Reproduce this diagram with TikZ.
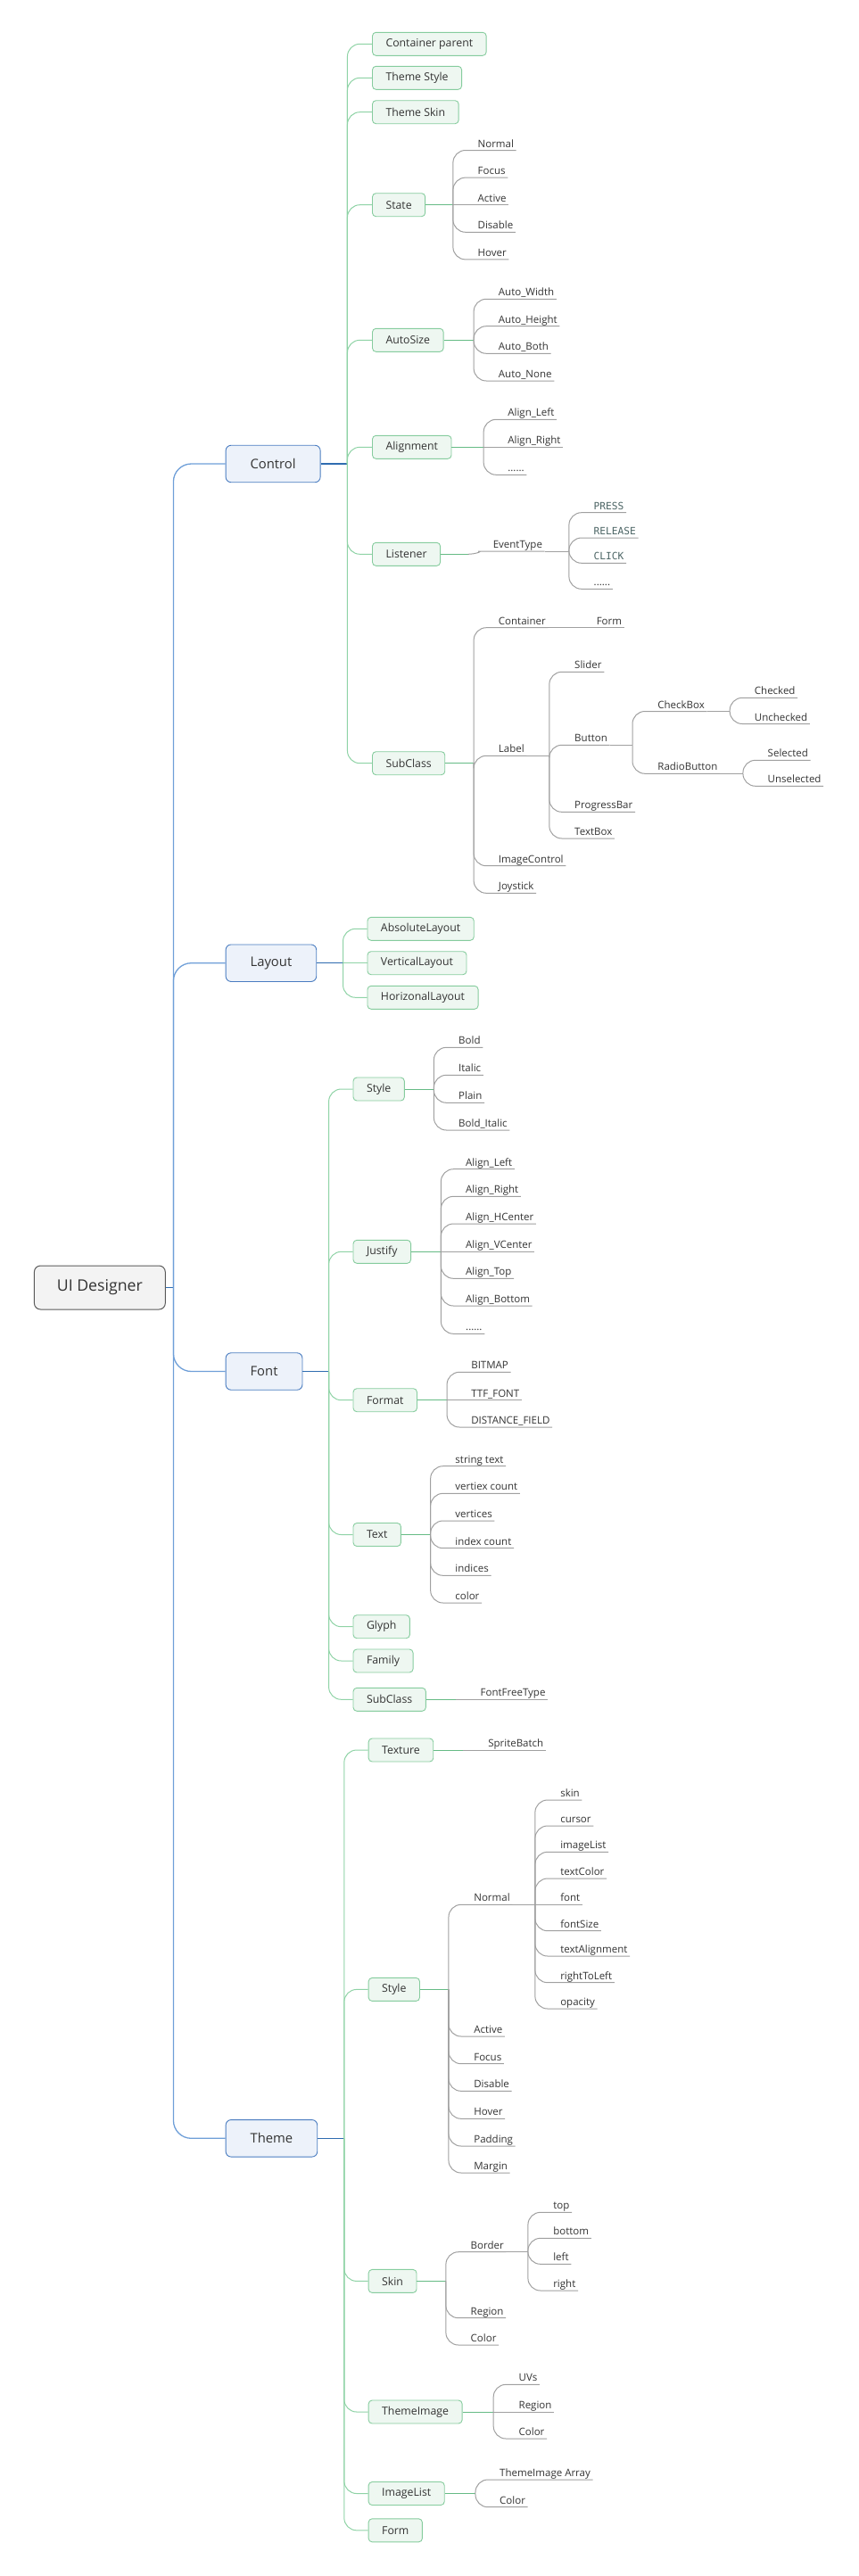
\documentclass[tikz,border=0pt]{standalone}
\usepackage{fontspec}
\setmainfont{Open Sans}
\newfontfamily\mymono{DejaVu Sans Mono}
\definecolor{txt}{HTML}{333333}
\definecolor{monoC}{HTML}{4B6464}
\definecolor{rootD}{HTML}{5A5A5A}
\definecolor{rootF}{HTML}{F3F3F3}
\definecolor{blueB}{HTML}{4A7CC0}
\definecolor{blueF}{HTML}{EDF2FA}
\definecolor{blueL}{HTML}{6F9FD8}
\definecolor{blueD}{HTML}{2F6CB0}
\definecolor{greenB}{HTML}{86CC9E}
\definecolor{greenF}{HTML}{EEF7F1}
\definecolor{greenL}{HTML}{8FD3A6}
\definecolor{greenD}{HTML}{66BB85}
\definecolor{grayL}{HTML}{A0A0A0}
\newcommand\lf[5][leaf]{\node[#1] (#2) at (#3,#4) {#5};}
\newcommand\cn[2]{\draw[yl] (#1) |- (#2.south east);}
\begin{document}
\begin{tikzpicture}[x=0.985pt,y=-1pt,
 rootbox/.style={draw=rootD, fill=rootF, line width=1pt, rounded corners=7pt, minimum height=49pt, inner xsep=25.5pt, font=\fontsize{17.7}{21}\selectfont, text=txt, anchor=west},
 bluebox/.style={draw=blueB, fill=blueF, line width=0.9pt, rounded corners=6pt, minimum height=41.5pt, inner xsep=27.5pt, font=\fontsize{14.8}{18}\selectfont, text=txt, anchor=west},
 greenbox/.style={draw=greenB, fill=greenF, line width=0.9pt, rounded corners=4pt, minimum height=26pt, inner xsep=15pt, font=\fontsize{12.3}{15}\selectfont, text=txt, anchor=west},
 leaf/.style={inner xsep=2.5pt, inner ysep=0pt, text depth=3.3pt, font=\fontsize{11.5}{14}\selectfont, text=txt, anchor=south west},
 monoleaf/.style={leaf, font=\mymono\fontsize{11.2}{14}\selectfont, text=monoC},
 tl/.style={draw=blueL, line width=1.3pt, rounded corners=20pt},
 bseg/.style={draw=blueD, line width=1.3pt},
 gl/.style={draw=greenL, line width=1pt, rounded corners=14pt},
 gseg/.style={draw=greenD, line width=1pt},
 yl/.style={draw=grayL, line width=1pt, rounded corners=14pt},
]
\useasboundingbox (0,0) rectangle (976.65,2888);

% ---------- root and first level
\node[rootbox] (root) at (38.5,1443.5) {UI Designer};
\coordinate (vR) at (197.4,1443.5);
\draw[bseg] (root.east) -- (vR);
\node[bluebox] (control) at (256.5,520) {Control};
\node[bluebox] (layout) at (256.5,1079.7) {Layout};
\node[bluebox] (font) at (256.5,1537.5) {Font};
\node[bluebox] (theme) at (256.5,2397.3) {Theme};
\foreach \n in {control,layout,font,theme} {\draw[tl] (vR) |- (\n.west);}

% ---------- Control
\coordinate (vC) at (395.4,520);
\draw[bseg] (control.east) -- (vC);
\node[greenbox] (cparent) at (423.4,49.3) {Container parent};
\node[greenbox] (tstyle) at (423.4,87.3) {Theme Style};
\node[greenbox] (tskin) at (423.4,125.7) {Theme Skin};
\node[greenbox] (state) at (423.4,229.7) {State};
\node[greenbox] (autosize) at (423.4,381.3) {AutoSize};
\node[greenbox] (alignment) at (423.4,501.3) {Alignment};
\node[greenbox] (listener) at (423.4,621.3) {Listener};
\node[greenbox] (csub) at (423.4,855.7) {SubClass};
\foreach \n in {cparent,tstyle,tskin,state,autosize,alignment,listener,csub} {\draw[gl] (vC) |- (\n.west);}

% State
\coordinate (vSt) at (515.6,229.7);
\draw[gseg] (state.east) -- (vSt);
\lf{stN}{541.1}{168.5}{Normal}
\lf{stF}{541.1}{199.1}{Focus}
\lf{stA}{541.1}{229.7}{Active}
\lf{stD}{541.1}{260.3}{Disable}
\lf{stH}{541.1}{290.9}{Hover}
\foreach \n in {stN,stF,stD,stH} {\cn{vSt}{\n}}
\draw[yl] (vSt) -- (stA.south east);

% AutoSize
\coordinate (vAs) at (539.2,381.3);
\draw[gseg] (autosize.east) -- (vAs);
\lf{asW}{564.7}{335.3}{Auto\_Width}
\lf{asH}{564.7}{365.7}{Auto\_Height}
\lf{asB}{564.7}{396.3}{Auto\_Both}
\lf{asN}{564.7}{427}{Auto\_None}
\foreach \n in {asW,asH,asB,asN} {\cn{vAs}{\n}}

% Alignment
\coordinate (vAl) at (550.4,501.3);
\draw[gseg] (alignment.east) -- (vAl);
\lf{alL}{575.3}{470.3}{Align\_Left}
\lf{alR}{575.3}{501.3}{Align\_Right}
\lf{alD}{575.3}{532.3}{......}
\cn{vAl}{alL}
\cn{vAl}{alD}
\draw[yl] (vAl) -- (alR.south east);

% Listener
\coordinate (vLi) at (532.6,621.3);
\draw[gseg] (listener.east) -- (vLi);
\lf{evt}{558.5}{618}{EventType}
\draw[yl] (vLi) .. controls +(8,0) and +(-8,0) .. (evt.south west) -- (evt.south east);
\coordinate (vEv) at (647.6,618);
\draw[yl] (evt.south east) -- (vEv);
\lf[monoleaf]{evP}{673.1}{574.7}{PRESS}
\lf[monoleaf]{evR}{673.1}{603}{RELEASE}
\lf[monoleaf]{evC}{673.1}{631.3}{CLICK}
\lf{evD}{673.1}{660.3}{......}
\foreach \n in {evP,evR,evC,evD} {\cn{vEv}{\n}}

% Control SubClass
\coordinate (vSc) at (539.2,855.7);
\draw[gseg] (csub.east) -- (vSc);
\lf{cont}{564.7}{703.7}{Container}
\lf{lab}{564.7}{847.3}{Label}
\lf{imgc}{564.7}{970.7}{ImageControl}
\lf{joy}{564.7}{1001.3}{Joystick}
\foreach \n in {cont,lab,imgc,joy} {\cn{vSc}{\n}}
\coordinate (vCo) at (652.5,703.7);
\draw[yl] (cont.south east) -- (vCo);
\lf{cform}{676.2}{703.7}{Form}
\draw[yl] (vCo) -- (cform.south east);
\coordinate (vLa) at (625.2,847.3);
\draw[yl] (lab.south east) -- (vLa);
\lf{slider}{651.3}{753.3}{Slider}
\lf{button}{651.3}{835.3}{Button}
\lf{pbar}{651.3}{910.3}{ProgressBar}
\lf{tbox}{651.3}{940}{TextBox}
\foreach \n in {slider,button,pbar,tbox} {\cn{vLa}{\n}}
\coordinate (vBu) at (719.8,835.3);
\draw[yl] (button.south east) -- (vBu);
\lf{chk}{745.9}{797.5}{CheckBox}
\lf{radio}{745.9}{867.3}{RadioButton}
\cn{vBu}{chk}
\cn{vBu}{radio}
\coordinate (vCk) at (830.6,797.5);
\draw[yl] (chk.south east) -- (vCk);
\lf{chkd}{856.1}{782.3}{Checked}
\lf{uchkd}{856.1}{811.5}{Unchecked}
\cn{vCk}{chkd}
\cn{vCk}{uchkd}
\coordinate (vRb) at (845.6,867.3);
\draw[yl] (radio.south east) -- (vRb);
\lf{sel}{871.1}{852.3}{Selected}
\lf{usel}{871.1}{881.3}{Unselected}
\cn{vRb}{sel}
\cn{vRb}{usel}

% ---------- Layout
\coordinate (vL) at (390.4,1079.7);
\draw[bseg] (layout.east) -- (vL);
\node[greenbox] (absl) at (417.8,1041.3) {AbsoluteLayout};
\node[greenbox] (vertl) at (417.8,1079.7) {VerticalLayout};
\node[greenbox] (horl) at (417.8,1118.3) {HorizonalLayout};
\draw[gl] (vL) |- (absl.west);
\draw[gl] (vL) -- (vertl.west);
\draw[gl] (vL) |- (horl.west);

% ---------- Font
\coordinate (vF) at (374.2,1537.5);
\draw[bseg] (font.east) -- (vF);
\node[greenbox] (fstyle) at (401.6,1221) {Style};
\node[greenbox] (just) at (401.6,1403.3) {Justify};
\node[greenbox] (fmt) at (401.6,1569.7) {Format};
\node[greenbox] (ftext) at (401.6,1720.5) {Text};
\node[greenbox] (glyph) at (401.6,1823.7) {Glyph};
\node[greenbox] (fam) at (401.6,1862) {Family};
\node[greenbox] (fsub) at (401.6,1905.3) {SubClass};
\foreach \n in {fstyle,just,fmt,ftext,glyph,fam,fsub} {\draw[gl] (vF) |- (\n.west);}

\coordinate (vFs) at (493.8,1221);
\draw[gseg] (fstyle.east) -- (vFs);
\lf{fsB}{519.3}{1174.3}{Bold}
\lf{fsI}{519.3}{1205.3}{Italic}
\lf{fsP}{519.3}{1236.3}{Plain}
\lf{fsBI}{519.3}{1267}{Bold\_Italic}
\foreach \n in {fsB,fsI,fsP,fsBI} {\cn{vFs}{\n}}

\coordinate (vJ) at (501.9,1403.3);
\draw[gseg] (just.east) -- (vJ);
\lf{jL}{527.4}{1310.7}{Align\_Left}
\lf{jR}{527.4}{1341.3}{Align\_Right}
\lf{jH}{527.4}{1372}{Align\_HCenter}
\lf{jV}{527.4}{1403.3}{Align\_VCenter}
\lf{jT}{527.4}{1433.3}{Align\_Top}
\lf{jB}{527.4}{1464}{Align\_Bottom}
\lf{jD}{527.4}{1495.3}{......}
\foreach \n in {jL,jR,jH,jT,jB,jD} {\cn{vJ}{\n}}
\draw[yl] (vJ) -- (jV.south east);

\coordinate (vFm) at (508.7,1569.7);
\draw[gseg] (fmt.east) -- (vFm);
\lf{fmB}{533.6}{1538.3}{BITMAP}
\lf{fmT}{533.6}{1569.7}{TTF\_FONT}
\lf{fmD}{533.6}{1600}{DISTANCE\_FIELD}
\cn{vFm}{fmB}
\cn{vFm}{fmD}
\draw[yl] (vFm) -- (fmT.south east);

\coordinate (vFt) at (490,1720.5);
\draw[gseg] (ftext.east) -- (vFt);
\lf{ft1}{515.5}{1643.7}{string text}
\lf{ft2}{515.5}{1674.3}{vertiex count}
\lf{ft3}{515.5}{1705}{vertices}
\lf{ft4}{515.5}{1735.7}{index count}
\lf{ft5}{515.5}{1766.3}{indices}
\lf{ft6}{515.5}{1797}{color}
\foreach \n in {ft1,ft2,ft3,ft4,ft5,ft6} {\cn{vFt}{\n}}

\coordinate (vFsb) at (518.7,1905.3);
\draw[gseg] (fsub.east) -- (vFsb);
\lf{ffree}{544.2}{1905.3}{FontFreeType}
\draw[yl] (vFsb) -- (ffree.south east);

% ---------- Theme
\coordinate (vT) at (391.7,2397.3);
\draw[bseg] (theme.east) -- (vT);
\node[greenbox] (tex) at (419,1962) {Texture};
\node[greenbox] (tsty) at (419,2230.4) {Style};
\node[greenbox] (skin) at (419,2557.4) {Skin};
\node[greenbox] (timg) at (419,2704) {ThemeImage};
\node[greenbox] (ilist) at (419,2795.5) {ImageList};
\node[greenbox] (tform) at (419,2836.8) {Form};
\foreach \n in {tex,tsty,skin,timg,ilist,tform} {\draw[gl] (vT) |- (\n.west);}

\coordinate (vTx) at (527,1962);
\draw[gseg] (tex.east) -- (vTx);
\lf{sprite}{552.9}{1962}{SpriteBatch}
\draw[yl] (vTx) -- (sprite.south east);

\coordinate (vTs) at (510.6,2230.4);
\draw[gseg] (tsty.east) -- (vTs);
\lf{tnorm}{536.7}{2135.3}{Normal}
\lf{tact}{536.7}{2283}{Active}
\lf{tfoc}{536.7}{2313.7}{Focus}
\lf{tdis}{536.7}{2344.3}{Disable}
\lf{thov}{536.7}{2375.3}{Hover}
\lf{tpad}{536.7}{2406}{Padding}
\lf{tmar}{536.7}{2436}{Margin}
\foreach \n in {tnorm,tact,tfoc,tdis,thov,tpad,tmar} {\cn{vTs}{\n}}

\coordinate (vTn) at (609,2135.3);
\draw[yl] (tnorm.south east) -- (vTn);
\lf{n1}{635.1}{2018}{skin}
\lf{n2}{635.1}{2047}{cursor}
\lf{n3}{635.1}{2076.3}{imageList}
\lf{n4}{635.1}{2106}{textColor}
\lf{n5}{635.1}{2135.3}{font}
\lf{n6}{635.1}{2164.7}{fontSize}
\lf{n7}{635.1}{2193}{textAlignment}
\lf{n8}{635.1}{2222.7}{rightToLeft}
\lf{n9}{635.1}{2252}{opacity}
\foreach \n in {n1,n2,n3,n4,n6,n7,n8,n9} {\cn{vTn}{\n}}
\draw[yl] (vTn) -- (n5.south east);

\coordinate (vSk) at (507.5,2557.4);
\draw[gseg] (skin.east) -- (vSk);
\lf{border}{533}{2524.7}{Border}
\lf{skreg}{533}{2598.7}{Region}
\lf{skcol}{533}{2629}{Color}
\foreach \n in {border,skreg,skcol} {\cn{vSk}{\n}}
\coordinate (vBo) at (600.9,2524.7);
\draw[yl] (border.south east) -- (vBo);
\lf{btop}{627}{2480.3}{top}
\lf{bbot}{627}{2509.3}{bottom}
\lf{bleft}{627}{2538.3}{left}
\lf{bright}{627}{2568}{right}
\foreach \n in {btop,bbot,bleft,bright} {\cn{vBo}{\n}}

\coordinate (vTi) at (561.6,2704);
\draw[gseg] (timg.east) -- (vTi);
\lf{uvs}{587.8}{2673.3}{UVs}
\lf{tireg}{587.8}{2704}{Region}
\lf{ticol}{587.8}{2734}{Color}
\cn{vTi}{uvs}
\cn{vTi}{ticol}
\draw[yl] (vTi) -- (tireg.south east);

\coordinate (vIl) at (541.1,2795.5);
\draw[gseg] (ilist.east) -- (vIl);
\lf{tiarr}{566}{2780}{ThemeImage Array}
\lf{ilcol}{566}{2810.7}{Color}
\cn{vIl}{tiarr}
\cn{vIl}{ilcol}
\end{tikzpicture}
\end{document}
